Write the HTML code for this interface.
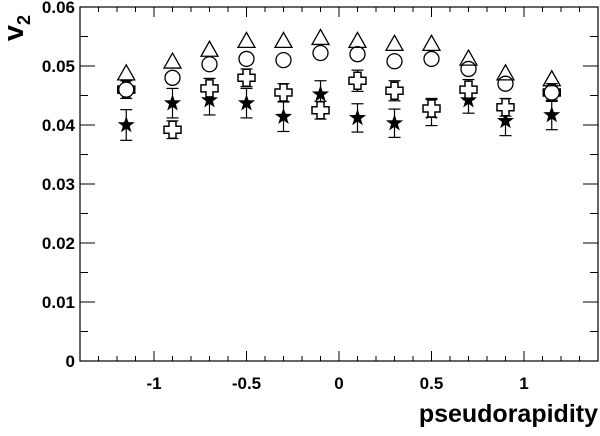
<!DOCTYPE html>
<html><head><meta charset="utf-8"><style>
body{margin:0;background:#fff;}
svg text{font-family:"Liberation Sans",Arial,sans-serif;font-weight:bold;fill:#000;}
</style></head><body>
<svg id="chart" width="600" height="431" viewBox="0 0 600 431" xmlns="http://www.w3.org/2000/svg"></svg>
<script>
const etaValues=[-1.15,-0.9,-0.7,-0.5,-0.3,-0.1,0.1,0.3,0.5,0.7,0.9,1.15];
const triangleValues=[0.0485,0.0505,0.0525,0.054,0.054,0.0545,0.054,0.0535,0.0535,0.051,0.0485,0.0475];
const circleValues=[0.046,0.048,0.0503,0.0512,0.051,0.0522,0.052,0.0508,0.0512,0.0495,0.047,0.0455];
const crossValues=[0.046,0.0392,0.0462,0.048,0.0455,0.0425,0.0475,0.0458,0.0428,0.046,0.043,0.0455];
const crossErrors=[0.0015,0.0015,0.0017,0.0015,0.0015,0.0015,0.0018,0.0017,0.0015,0.0017,0.0015,0.0015];
const starValues=[0.040,0.0437,0.0442,0.0437,0.0414,0.0452,0.0412,0.0403,0.0422,0.0442,0.0407,0.0417];
const starErrors=[0.0026,0.0025,0.0025,0.0025,0.0025,0.0023,0.0024,0.0024,0.0023,0.0022,0.0025,0.0025];
const xTickLabels=["-1","-0.5","0","0.5","1"];
const xTickVals=[-1,-0.5,0,0.5,1];
const yTickLabels=["0","0.01","0.02","0.03","0.04","0.05","0.06"];
const yTickVals=[0,0.01,0.02,0.03,0.04,0.05,0.06];

const L=80,R=598,T=7,B=361,XMIN=-1.4,XMAX=1.4,YMIN=0,YMAX=0.06;
const sx=v=>L+(v-XMIN)/(XMAX-XMIN)*(R-L);
const sy=v=>B-(v-YMIN)/(YMAX-YMIN)*(B-T);
const svg=document.getElementById('chart');
const NS='http://www.w3.org/2000/svg';
function mk(tag,attrs,parent){const e=document.createElementNS(NS,tag);for(const k in attrs)e.setAttribute(k,attrs[k]);(parent||svg).appendChild(e);return e;}

const frame=mk('rect',{x:L,y:T,width:R-L,height:B-T,fill:'none',stroke:'#000','stroke-width':1.2});



const ticks=mk('g',{stroke:'#000','stroke-width':1});


for(let i=-14;i<=14;i++){const v=i/10;const x=sx(v);const len=(i%5===0)?10:5;
 mk('line',{x1:x,y1:B,x2:x,y2:B-len},ticks);mk('line',{x1:x,y1:T,x2:x,y2:T+len},ticks);}
for(let i=0;i<=12;i++){const v=i*0.005;const y=sy(v);const len=(i%2===0)?15:8;
 mk('line',{x1:L,y1:y,x2:L+len,y2:y},ticks);mk('line',{x1:R,y1:y,x2:R-len,y2:y},ticks);}

xTickLabels.forEach((t,i)=>{const e=mk('text',{x:sx(xTickVals[i]),y:389,'text-anchor':'middle','font-size':17});e.textContent=t;
 
 });
yTickLabels.forEach((t,i)=>{const e=mk('text',{x:75,y:sy(yTickVals[i])+6,'text-anchor':'end','font-size':17});e.textContent=t;
 
 });

const xt=mk('text',{x:598,y:422,'text-anchor':'end','font-size':25});xt.textContent='pseudorapidity';


const yt=mk('text',{transform:'translate(23,28) rotate(-90)','text-anchor':'middle','font-size':29});
yt.innerHTML='v<tspan font-size="18" dy="7">2</tspan>';



function errbar(g,x,y,e){const y1=sy(y-e),y2=sy(y+e);
 mk('line',{x1:x,y1:y1,x2:x,y2:y2,stroke:'#000','stroke-width':1.2},g);
 mk('line',{x1:x-6,y1:y1,x2:x+6,y2:y1,stroke:'#000','stroke-width':1.2},g);
 mk('line',{x1:x-6,y1:y2,x2:x+6,y2:y2,stroke:'#000','stroke-width':1.2},g);}

const gs=mk('g',{});


const gc=mk('g',{});


const go=mk('g',{});


const gt=mk('g',{});



etaValues.forEach((eta,i)=>{
 const x=sx(eta);
 errbar(gs,x,starValues[i],starErrors[i]);
 let y=sy(starValues[i]);let pts=[];
 for(let k=0;k<10;k++){const r=k%2?3.6:9;const a=-Math.PI/2+k*Math.PI/5;pts.push((x+r*Math.cos(a)).toFixed(1)+','+(y+r*Math.sin(a)).toFixed(1));}
 const st=mk('polygon',{points:pts.join(' '),fill:'#000'},gs);
 
 
 errbar(gc,x,crossValues[i],crossErrors[i]);
 y=sy(crossValues[i]);const a=3.5,b=8.5;
 const cp=[[-a,-b],[a,-b],[a,-a],[b,-a],[b,a],[a,a],[a,b],[-a,b],[-a,a],[-b,a],[-b,-a],[-a,-a]].map(p=>(x+p[0])+','+(y+p[1])).join(' ');
 const cr=mk('polygon',{points:cp,fill:'#fff',stroke:'#000','stroke-width':1.5},gc);
 
 
 y=sy(circleValues[i]);
 const ci=mk('circle',{cx:x,cy:y,r:7.5,fill:'#fff',stroke:'#000','stroke-width':1.3},go);
 
 
 y=sy(triangleValues[i]);
 const tr=mk('polygon',{points:`${x},${y-10} ${x+8.5},${y+5} ${x-8.5},${y+5}`,fill:'none',stroke:'#000','stroke-width':1.3},gt);
 
 
});
</script>
</body></html>
